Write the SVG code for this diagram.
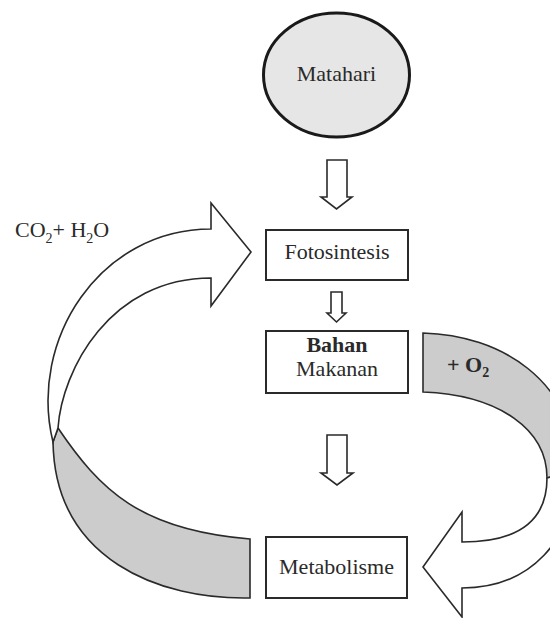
<svg xmlns="http://www.w3.org/2000/svg" width="550" height="618" viewBox="0 0 550 618">
<style>
text{font-family:"Liberation Serif","Times New Roman",serif;font-size:22px;fill:#2a2a2a}
.box{fill:#fff;stroke:#2a2a2a;stroke-width:2}
.arr{fill:#fff;stroke:#2a2a2a;stroke-width:1.6;stroke-linejoin:miter}
.gray{fill:#cccccc;stroke:#2a2a2a;stroke-width:1.6}
.b{font-weight:bold}
</style>
<rect width="550" height="618" fill="#fff"/>
<g id="connectors">
  <path class="arr" d="M327,160 H347 V197 H352 L336.5,209 L321,197 H327 Z"/>
  <path class="arr" d="M331,292 H342 V313 H346 L336.5,322 L327,313 H331 Z"/>
  <path class="arr" d="M327,435 H347 V473 H353 L337,485 L321,473 H327 Z"/>
  <g id="cycle-left">
    <path class="gray" d="M58,428 C100,490 140,530 250,539 L250,598 C160,600 55,560 53,442 Z"/>
    <path class="arr" d="M53,442 C28,340 100,229 211,229 L211,203 L251,252 L211,306 L211,278 C110,278 62,370 58,428 Z"/>
    <text x="15" y="237">CO<tspan font-size="14" dy="6">2</tspan><tspan dy="-6">+ H</tspan><tspan font-size="14" dy="6">2</tspan><tspan dy="-6">O</tspan></text>
  </g>
  <g id="cycle-right">
    <path class="gray" d="M423,333 C500,335 575,380 575,470 L547,478 C547,430 500,395 423,392 Z"/>
    <path class="arr" d="M547,478 C547,520 520,542 462,542 L462,512 L423,567 L462,617 L462,588 C530,588 575,540 575,470 Z"/>
    <text x="447" y="372" class="b">+ O<tspan font-size="14" dy="5">2</tspan></text>
  </g>
</g>
<g id="matahari">
  <ellipse cx="336.5" cy="75" rx="73" ry="62" fill="#e6e6e6" stroke="#1a1a1a" stroke-width="3"/>
  <text x="336.5" y="81" text-anchor="middle">Matahari</text>
</g>
<g id="fotosintesis">
  <rect class="box" x="266" y="230" width="142" height="50"/>
  <text x="337" y="259" text-anchor="middle">Fotosintesis</text>
</g>
<g id="bahan-makanan">
  <rect class="box" x="266" y="331" width="142" height="62"/>
  <text x="337" y="352" text-anchor="middle" class="b">Bahan</text>
  <text x="337" y="376" text-anchor="middle">Makanan</text>
</g>
<g id="metabolisme">
  <rect class="box" x="266" y="537" width="141" height="61"/>
  <text x="336.5" y="574" text-anchor="middle">Metabolisme</text>
</g>
</svg>
